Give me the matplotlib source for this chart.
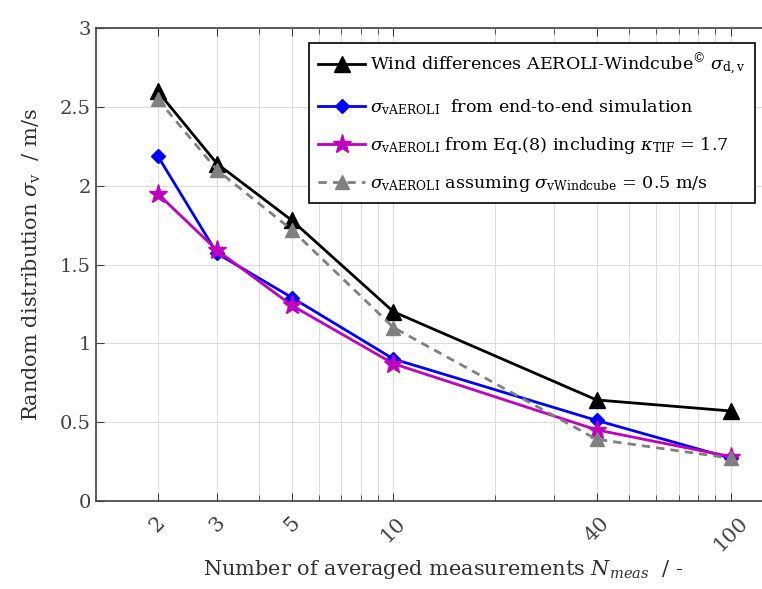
import matplotlib
matplotlib.use("Agg")
import matplotlib.pyplot as plt
from matplotlib.ticker import FixedLocator, LogLocator, NullFormatter

plt.rcParams['font.family'] = ['DejaVu Serif']
plt.rcParams['mathtext.fontset'] = 'custom'
plt.rcParams['mathtext.rm'] = 'DejaVu Serif'
plt.rcParams['mathtext.it'] = 'DejaVu Serif:italic'

n_meas = [2, 3, 5, 10, 40, 100]
wind_diff = [2.60, 2.14, 1.78, 1.20, 0.64, 0.57]
e2e_sim = [2.19, 1.57, 1.29, 0.90, 0.51, 0.27]
eq8 = [1.95, 1.59, 1.24, 0.87, 0.45, 0.28]
assume_wc = [2.55, 2.10, 1.72, 1.10, 0.39, 0.27]

xtick_vals = [2, 3, 5, 10, 40, 100]
ytick_vals = [0, 0.5, 1, 1.5, 2, 2.5, 3]

labels = [
    r"Wind differences AEROLI-Windcube$^{©}$ $\sigma_{\mathrm{d,v}}$",
    r"$\sigma_{\mathrm{vAEROLI}}$  from end-to-end simulation",
    r"$\sigma_{\mathrm{vAEROLI}}$ from Eq.(8) including $\kappa_{\mathrm{TIF}}$ = 1.7",
    r"$\sigma_{\mathrm{vAEROLI}}$ assuming $\sigma_{\mathrm{vWindcube}}$ = 0.5 m/s",
]

fig = plt.figure(figsize=(7.62, 5.89), dpi=100)
ax = fig.add_axes([0.1256, 0.1499, 0.9114, 0.802])

ax.plot(n_meas, wind_diff, color='black', lw=2, marker='^', ms=11, label=labels[0])
ax.plot(n_meas, e2e_sim, color='#0000ff', lw=2, marker='D', ms=7, label=labels[1])
ax.plot(n_meas, eq8, color='#c000c0', lw=2, marker='*', ms=14, label=labels[2])
ax.plot(n_meas, assume_wc, color='#808080', lw=2, ls=(0, (3, 2.2)), marker='^', ms=10,
        label=labels[3])

ax.set_xscale('log')
ax.set_xlim(1.31, 150)
ax.set_ylim(0, 3)
ax.xaxis.set_major_locator(FixedLocator(xtick_vals))
ax.xaxis.set_minor_locator(LogLocator(base=10, subs=range(2, 10)))
ax.xaxis.set_minor_formatter(NullFormatter())
ax.set_xticks(xtick_vals)
ax.set_xticklabels([str(v) for v in xtick_vals], rotation=45, ha='center')
ax.set_yticks(ytick_vals)
ax.set_yticklabels(['0', '0.5', '1', '1.5', '2', '2.5', '3'])

ax.grid(True, which='both', axis='x', color='#dddddd', lw=0.8)
ax.grid(True, which='major', axis='y', color='#dddddd', lw=0.8)
ax.set_axisbelow(True)

for s in ax.spines.values():
    s.set_color('#404040')
    s.set_linewidth(1.2)
ax.tick_params(which='both', direction='in', top=True, right=True,
               colors='#404040', labelsize=14, labelcolor='#404040')
ax.tick_params(axis='x', which='major', pad=9, labelsize=15)
ax.tick_params(which='major', length=6)
ax.tick_params(which='minor', length=4)

ax.set_ylabel(r"Random distribution $\sigma_{\mathrm{v}}$  / m/s", fontsize=15,
              color='#303030', labelpad=12)
ax.set_xlabel(r"Number of averaged measurements $N_{meas}$  / -", fontsize=15,
              color='#303030', labelpad=2)

leg = ax.legend(loc='upper right', bbox_to_anchor=(755 / 762, 1 - 43 / 589),
                bbox_transform=fig.transFigure, fontsize=12.6, frameon=True,
                fancybox=False, edgecolor='black', framealpha=1,
                handlelength=2.7, handletextpad=0.3, borderaxespad=0,
                labelspacing=1.05, borderpad=0.5)
leg.get_frame().set_linewidth(1.2)

fig.savefig("out.png", dpi=100)
